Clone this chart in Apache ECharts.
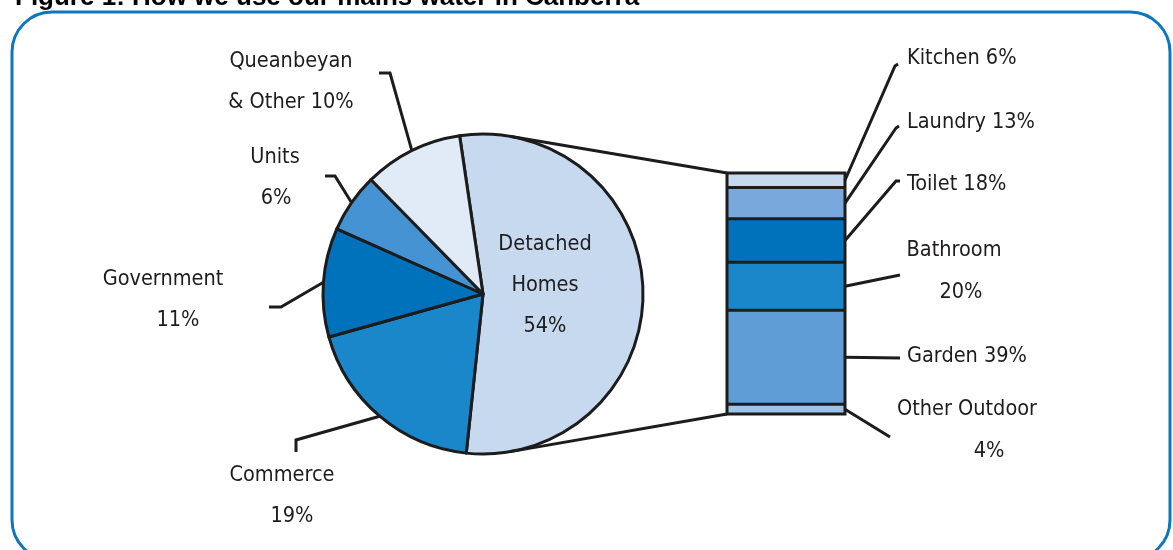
<!DOCTYPE html>
<html><head><meta charset="utf-8">
<script src="https://cdn.jsdelivr.net/npm/echarts@6/dist/echarts.min.js"></script>
<style>html,body{margin:0;padding:0;background:#fff;overflow:hidden}#c{width:1173px;height:550px}</style>
</head><body><div id="c"></div>
<script>
// ---- data ----
const titleText = 'Figure 1: How we use our mains water in Canberra';
const pieNames = ['Detached Homes', 'Commerce', 'Government', 'Units', 'Queanbeyan & Other'];
const pieValues = [54, 19, 11, 6, 10];
const barNames = ['Kitchen', 'Laundry', 'Toilet', 'Bathroom', 'Garden', 'Other Outdoor'];
const barValues = [6, 13, 18, 20, 39, 4];

// ---- style / layout ----
const FONT = "'Liberation Sans Narrow','DejaVu Sans Condensed','Arial Narrow',sans-serif";
const FS = 21.5;
const TXT = '#1e1c1c';
const EDGE = '#1c1c1c';
const pieColors = ['#c6d9ef', '#1b87cb', '#0072bb', '#4593d3', '#e1ebf7'];
const barColors = ['#c6d9ef', '#79a8dc', '#0072bb', '#1b87cb', '#5e9dd6', '#9dc3e8'];
const PIE_C = [483, 294], PIE_R = 160;
const GRID = {left: 727, top: 173, width: 118, height: 241};

function rich(pad) {
  return {p: {padding: [0, 0, 0, pad], fontFamily: FONT, fontSize: FS, color: TXT, lineHeight: 41}};
}
const pieLabelFmt = {
  'Detached Homes': v => 'Detached\nHomes\n' + v + '%',
  'Queanbeyan & Other': v => 'Queanbeyan\n& Other ' + v + '%'
};
// label block centres, second-line shift and leader elbows (layout only)
const pieLabelPos = [[545, 285], [282, 496], [163, 300], [275, 178], [291, 82]];
const pieSecondPad = [0, 20, 30, 2, 0];
const pieLineElbow = [null, [[296, 440], [296, 452]], [[281, 307], [269, 307]], [[335, 176], [325, 176]], [[390, 73], [379, 73]]];

const barLabelFmt = {
  'Bathroom': v => 'Bathroom\n{p|' + v + '%}',
  'Other Outdoor': v => 'Other Outdoor\n{p|' + v + '%}'
};
const barLabelPos = [[907, 58, 'left'], [907, 122, 'left'], [907, 184, 'left'], [954, 271, 'center'], [907, 356, 'left'], [967, 430, 'center']];
const barSecondPad = [0, 0, 0, 14, 0, 44];
const barLineEnds = [[[895, 66], [898, 64]], [[896, 128], [899, 126]], [[896, 181], [900, 181]], [[900, 275]], [[900, 358]], [[890, 437]]];

const chart = echarts.init(document.getElementById('c'), null, {renderer: 'canvas'});

const pieData = pieNames.map((n, i) => ({
  name: n, value: pieValues[i],
  itemStyle: {color: pieColors[i]},
  label: {rich: rich(pieSecondPad[i])},
  labelLine: {show: i !== 0}
}));

const barSeries = barNames.map((n, i) => ({
  type: 'bar', name: n, stack: 'home', barWidth: '100%',
  data: [barValues[i]],
  itemStyle: {color: barColors[i], borderWidth: 0},
  label: {
    show: true, position: 'inside', fontFamily: FONT, fontSize: FS, color: TXT, lineHeight: 42,
    align: 'center', rich: rich(barSecondPad[i]),
    formatter: p => (barLabelFmt[n] ? barLabelFmt[n](p.value) : n + ' ' + p.value + '%')
  },
  labelLayout: function () {
    const pos = barLabelPos[i];
    return {x: pos[0], y: pos[1], align: pos[2], verticalAlign: 'middle'};
  },
  emphasis: {disabled: true},
  silent: true
}));

chart.setOption({
  animation: false,
  title: {
    text: titleText, left: 10, top: -20,
    textStyle: {fontFamily: "'Liberation Sans',Arial,sans-serif", fontWeight: 'bold', fontSize: 26, color: '#000'}
  },
  grid: {left: GRID.left, top: GRID.top, width: GRID.width, height: GRID.height, containLabel: false},
  xAxis: {type: 'category', data: ['Detached Homes'], show: false},
  yAxis: {type: 'value', min: 0, max: 100, inverse: true, show: false},
  series: [{
    type: 'pie', center: PIE_C, radius: PIE_R, startAngle: 98.4, clockwise: true,
    avoidLabelOverlap: false, silent: true,
    data: pieData,
    itemStyle: {borderColor: EDGE, borderWidth: 3},
    label: {
      show: true, position: 'outside', fontFamily: FONT, fontSize: FS, color: TXT,
      lineHeight: 41, align: 'center',
      formatter: p => {
        if (pieLabelFmt[p.name]) return pieLabelFmt[p.name](p.value);
        return p.name + '\n{p|' + p.value + '%}';
      }
    },
    labelLine: {show: true, length: 10, length2: 10, lineStyle: {color: EDGE, width: 3}},
    labelLayout: function (params) {
      const i = params.dataIndex;
      const pos = pieLabelPos[i];
      const out = {x: pos[0], y: pos[1], align: 'center', verticalAlign: 'middle'};
      if (pieLineElbow[i] && params.labelLinePoints) {
        out.labelLinePoints = [params.labelLinePoints[0], pieLineElbow[i][0], pieLineElbow[i][1]];
      }
      return out;
    }
  }].concat(barSeries)
});

// connectors from pie to bar (tangent lines), computed from the layout
function tangent(P, sign) {
  const dx = P[0] - PIE_C[0], dy = P[1] - PIE_C[1];
  const d = Math.hypot(dx, dy);
  const a = Math.atan2(dy, dx) + sign * Math.acos(PIE_R / d);
  return [PIE_C[0] + PIE_R * Math.cos(a), PIE_C[1] + PIE_R * Math.sin(a)];
}
const barTL = [GRID.left, GRID.top];
const barBL = [GRID.left, GRID.top + GRID.height];
const t1 = tangent(barTL, -1), t2 = tangent(barBL, 1);

// segment separators + leader lines, from the axis scale
const extras = [];
let cum = 0;
const xR = GRID.left + GRID.width;
barValues.forEach((v, i) => {
  const yMid = chart.convertToPixel({yAxisIndex: 0}, cum + v / 2);
  cum += v;
  if (i < barValues.length - 1) {
    const yB = chart.convertToPixel({yAxisIndex: 0}, cum);
    extras.push({type: 'line', shape: {x1: GRID.left, y1: yB, x2: xR, y2: yB}, silent: true,
      style: {stroke: EDGE, lineWidth: 3}, z: 100});
  }
  const pts = [[xR, yMid]].concat(barLineEnds[i]);
  extras.push({type: 'polyline', shape: {points: pts}, silent: true,
    style: {stroke: EDGE, lineWidth: 3, fill: null}, z: 100});
});
const yTop = chart.convertToPixel({yAxisIndex: 0}, 0);
const yBot = chart.convertToPixel({yAxisIndex: 0}, 100);

chart.setOption({
  graphic: [
    {type: 'rect', shape: {x: 12, y: 12, width: 1158, height: 548, r: 40}, silent: true,
     style: {fill: 'none', stroke: '#0e76bf', lineWidth: 3}, z: 0},
    {type: 'rect', shape: {x: GRID.left, y: yTop, width: GRID.width, height: yBot - yTop}, silent: true,
     style: {fill: 'none', stroke: EDGE, lineWidth: 3}, z: 101},
    {type: 'line', shape: {x1: t1[0], y1: t1[1], x2: barTL[0], y2: barTL[1]}, silent: true,
     style: {stroke: EDGE, lineWidth: 3}, z: 100},
    {type: 'line', shape: {x1: t2[0], y1: t2[1], x2: barBL[0], y2: barBL[1]}, silent: true,
     style: {stroke: EDGE, lineWidth: 3}, z: 100}
  ].concat(extras)
});
</script>
</body></html>
